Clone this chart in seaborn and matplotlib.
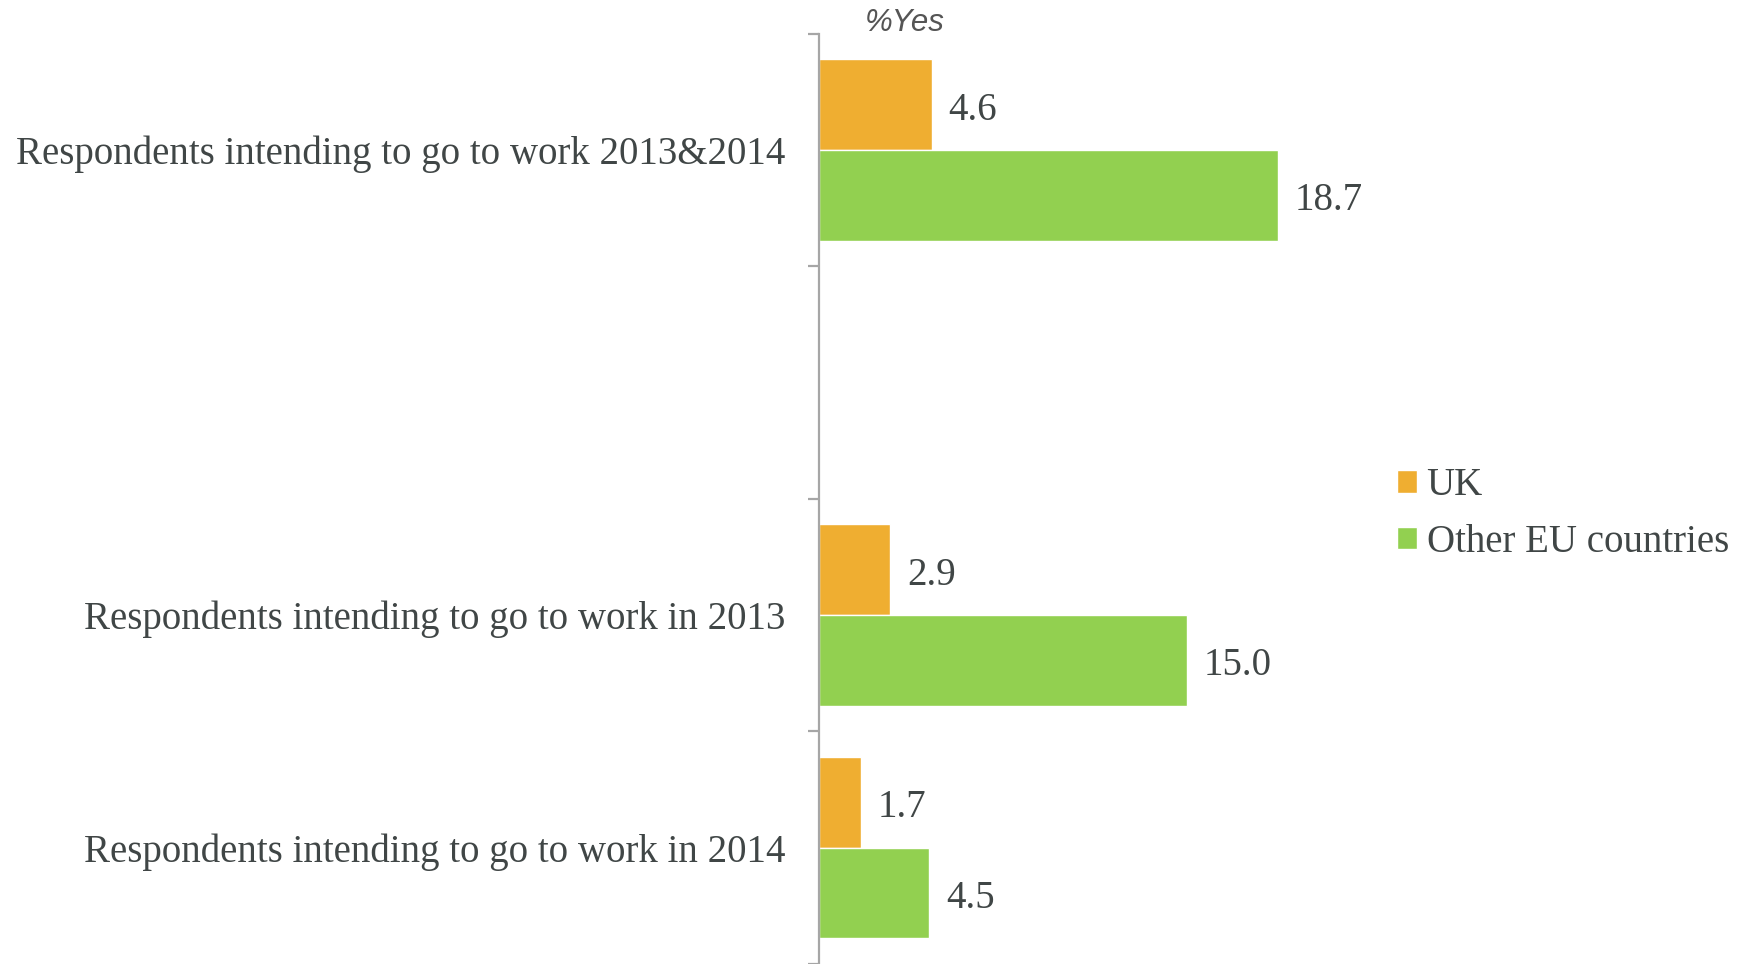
import pandas as pd
import matplotlib
matplotlib.use("Agg")
import matplotlib.pyplot as plt
import seaborn as sns

# data
categories = ["Respondents intending to go to work 2013&2014",
              "Respondents intending to go to work in 2013",
              "Respondents intending to go to work in 2014"]
slot_order = [categories[0], " ", categories[1], categories[2]]
series = ["UK", "Other EU countries"]
uk_values = [4.6, 2.9, 1.7]
eu_values = [18.7, 15.0, 4.5]
colors = ["#EFAE31", "#92D050"]

text_color = "#404646"

df = pd.DataFrame({
    "category": categories * 2,
    "series": [series[0]] * 3 + [series[1]] * 3,
    "value": uk_values + eu_values,
})

sns.set_theme(style="white")
plt.rcParams["font.family"] = ["Liberation Serif", "DejaVu Serif"]

fig = plt.figure(figsize=(17.52, 9.64), dpi=100)
ax = fig.add_axes([819 / 1752, 0.0, 564.6 / 1752, (964 - 33.5) / 964])

sns.barplot(data=df, y="category", x="value", hue="series", order=slot_order,
            hue_order=series, palette=colors, orient="h", width=0.78,
            saturation=1, ax=ax)

for cont in ax.containers:
    anns = ax.bar_label(cont, fmt="%.1f", padding=12, fontsize=28, color=text_color)
    for a in anns:
        a.xyann = (12, -4)

ax.set_xlim(0, 23)
ax.set_ylim(3.5, -0.5)
ax.set_xlabel("")
ax.set_ylabel("")
ax.set_xticks([])

sns.despine(ax=ax, top=True, right=True, bottom=True, left=False)
ax.spines["left"].set_color("#A6A6A6")
ax.spines["left"].set_linewidth(1.6)

ax.set_yticks([-0.5, 0.5, 1.5, 2.5, 3.5], minor=True)
ax.tick_params(axis="y", which="minor", length=8, width=1.6, color="#A6A6A6", left=True)
ax.tick_params(axis="y", which="major", length=0, pad=24, labelsize=28, labelcolor=text_color)

handles, labels = ax.get_legend_handles_labels()
ax.legend(handles, labels, loc="center left", bbox_to_anchor=(1378 / 1752, (964 - 514) / 964),
          bbox_transform=fig.transFigure, frameon=False, fontsize=28,
          labelcolor=text_color, handlelength=0.5, handleheight=0.5,
          handletextpad=0.25, labelspacing=0.5, borderpad=0)

fig.text(905 / 1752, 1 - 23 / 964, "%Yes", ha="center", va="center", fontsize=22.5,
         style="italic", family=["Liberation Sans", "DejaVu Sans"], color="#555555")

fig.savefig("out.png", dpi=100)
